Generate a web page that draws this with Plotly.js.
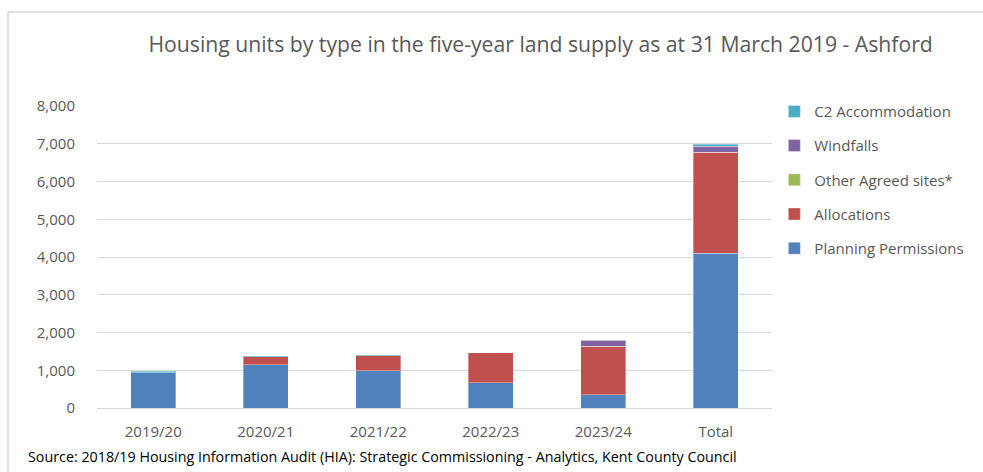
<!DOCTYPE html>
<html>
<head>
<meta charset="utf-8">
<script src="https://cdn.plot.ly/plotly-3.0.1.min.js"></script>
<style>html,body{margin:0;padding:0;background:#fff;}#chart{width:983px;height:472px;}</style>
</head>
<body>
<div id="chart"></div>
<script>
const categories = ['2019/20', '2020/21', '2021/22', '2022/23', '2023/24', 'Total'];
const planningPermissions = [940, 1150, 990, 675, 345, 4100];
const allocations = [0, 205, 390, 795, 1285, 2670];
const otherAgreedSites = [0, 5, 5, 0, 0, 10];
const windfalls = [0, 0, 0, 0, 160, 160];
const c2Accommodation = [30, 25, 30, 0, 0, 45];
const yTicks = [0, 1000, 2000, 3000, 4000, 5000, 6000, 7000, 8000];
const yTickLabels = ['0', '1,000', '2,000', '3,000', '4,000', '5,000', '6,000', '7,000', '8,000'];

const FONT = 'Open Sans, Noto Sans, sans-serif';
function bar(name, vals, color, rank) {
  return {type: 'bar', name: name, x: categories, y: vals, legendgroup: name, legendrank: rank,
    marker: {color: color, line: {color: 'rgba(255,255,255,0.35)', width: 1}},
    hoverinfo: 'x+y+name'};
}
const data = [
  bar('Planning Permissions', planningPermissions, '#4f81bd', 5),
  bar('Allocations', allocations, '#c0504d', 4),
  bar('Other Agreed sites*', otherAgreedSites, '#9bbb59', 3),
  bar('Windfalls', windfalls, '#8064a2', 2),
  bar('C2 Accommodation', c2Accommodation, '#4bacc6', 1)
];
const layout = {
  width: 983, height: 472,
  margin: {l: 97, r: 211, t: 106, b: 64},
  paper_bgcolor: '#fff', plot_bgcolor: '#fff',
  barmode: 'stack', bargap: 0.6,
  font: {family: FONT, color: '#595959', size: 15},
  title: {text: 'Housing units by type in the five-year land supply as at 31 March 2019 - Ashford',
    font: {family: FONT, size: 21.2, color: '#595959'}, x: 0.55, xanchor: 'center', y: 0.905, yanchor: 'middle'},
  xaxis: {type: 'category', showgrid: false, showline: true, linecolor: '#d9d9d9', linewidth: 1,
    ticks: '', ticklabelstandoff: 10, tickfont: {family: FONT, size: 15, color: '#595959'}},
  yaxis: {range: [0, 8000], tickvals: yTicks, ticktext: yTickLabels, showgrid: true,
    gridcolor: '#d9d9d9', gridwidth: 1, zeroline: false, showline: false, ticks: '',
    ticklabelstandoff: 21, tickfont: {family: FONT, size: 15, color: '#595959'}},
  legend: {traceorder: 'grouped', x: 1.0035, xanchor: 'left', y: 1.036, yanchor: 'top',
    font: {family: FONT, size: 15, color: '#595959'}, tracegroupgap: 11.7, itemwidth: 30,
    bgcolor: 'rgba(0,0,0,0)'},
  shapes: [
    {type: 'line', xref: 'paper', yref: 'paper', x0: (8 - 97) / 675, x1: (983 - 97) / 675,
      y0: (408 - 12) / 302, y1: (408 - 12) / 302, line: {color: '#d9d9d9', width: 1.5}},
    {type: 'line', xref: 'paper', yref: 'paper', x0: (8 - 97) / 675, x1: (8 - 97) / 675,
      y0: (408 - 12) / 302, y1: (408 - 472) / 302, line: {color: '#d9d9d9', width: 1.5}}
  ],
  annotations: [
    {text: 'Source: 2018/19 Housing Information Audit (HIA): Strategic Commissioning - Analytics, Kent County Council',
      xref: 'paper', yref: 'paper', x: (26 - 97) / 675, y: (408 - 456) / 302, xanchor: 'left', yanchor: 'middle',
      showarrow: false, font: {family: FONT, size: 14.3, color: '#000'}}
  ],
  showlegend: true
};
Plotly.newPlot('chart', data, layout, {displayModeBar: false, staticPlot: true});
</script>
</body>
</html>
